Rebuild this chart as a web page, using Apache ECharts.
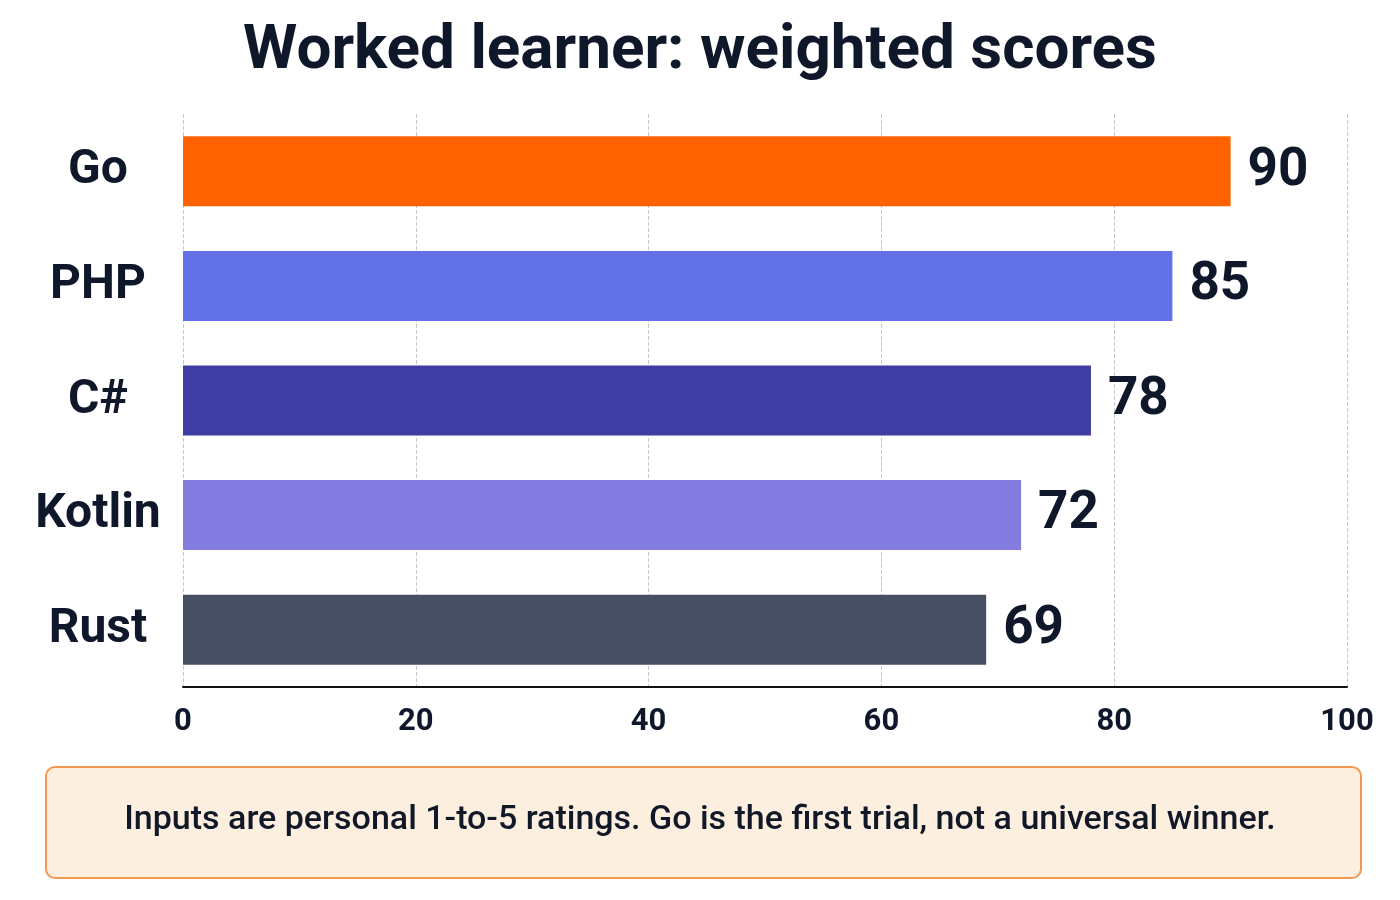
<!DOCTYPE html>
<html>
<head>
<meta charset="utf-8">
<script src="https://cdn.jsdelivr.net/npm/echarts@6/dist/echarts.min.js"></script>
<style>
  html, body { margin: 0; padding: 0; background: #fff; }
  #chart { width: 1400px; height: 900px; }
</style>
</head>
<body>
<div id="chart"></div>
<script>
var languages = ['Go', 'PHP', 'C#', 'Kotlin', 'Rust'];
var scores = [90, 85, 78, 72, 69];
var barColors = ['#ff6200', '#6371e8', '#3f3ca3', '#847be0', '#475063'];
var titleText = 'Worked learner: weighted scores';
var noteText = 'Inputs are personal 1-to-5 ratings. Go is the first trial, not a universal winner.';

var font = 'Roboto, "Noto Sans", sans-serif';
var ink = '#0f172a';

var option = {
    backgroundColor: '#ffffff',
    title: {
        text: titleText,
        left: 'center',
        top: 16,
        textStyle: {
            fontFamily: font,
            fontSize: 62,
            fontWeight: 'bold',
            color: ink
        }
    },
    grid: {
        left: 183,
        right: 53,
        top: 114,
        bottom: 213
    },
    xAxis: {
        type: 'value',
        min: 0,
        max: 100,
        interval: 20,
        axisLine: { show: true, lineStyle: { color: '#111111', width: 2 } },
        axisTick: { show: false },
        splitLine: { show: true, lineStyle: { color: '#c8c8c8', type: 'dashed', width: 1 } },
        axisLabel: {
            margin: 20,
            fontFamily: font,
            fontSize: 31,
            fontWeight: 'bold',
            color: ink
        }
    },
    yAxis: {
        type: 'category',
        inverse: true,
        data: languages,
        axisLine: { show: false },
        axisTick: { show: false },
        axisLabel: {
            margin: 85,
            align: 'center',
            fontFamily: font,
            fontSize: 48,
            fontWeight: 'bold',
            color: ink
        }
    },
    series: [{
        type: 'bar',
        barWidth: 70,
        data: scores.map(function (v, i) {
            return { value: v, itemStyle: { color: barColors[i] } };
        }),
        label: {
            show: true,
            position: 'right',
            distance: 17,
            fontFamily: font,
            fontSize: 53,
            fontWeight: 'bold',
            color: ink
        }
    }],
    graphic: [{
        type: 'rect',
        left: 45,
        top: 766,
        shape: { width: 1315, height: 111, r: 9 },
        style: { fill: '#fdefdf', stroke: '#f0984f', lineWidth: 2 }
    }, {
        type: 'text',
        left: 'center',
        top: 803,
        style: {
            text: noteText,
            fontFamily: font,
            fontSize: 34,
            fontWeight: 500,
            fill: '#111827'
        }
    }]
};

var myChart = echarts.init(document.getElementById('chart'));
myChart.setOption(option);
window.onresize = myChart.resize;
</script>
</body>
</html>
